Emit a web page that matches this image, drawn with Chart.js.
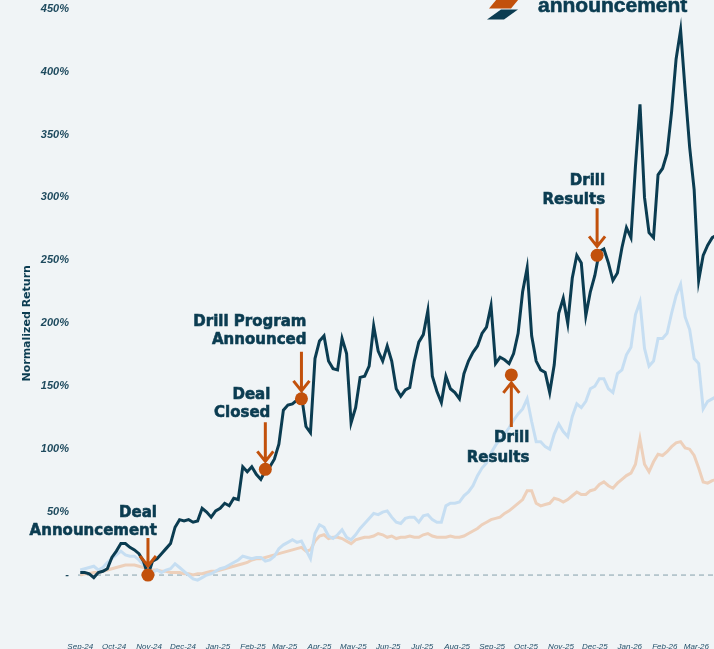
<!DOCTYPE html>
<html>
<head>
<meta charset="utf-8">
<title>Normalized Return</title>
<script src="https://cdn.jsdelivr.net/npm/chart.js@4.4.1/dist/chart.umd.min.js"></script>
<style>
    html, body { margin: 0; padding: 0; background: #F0F4F6; overflow: hidden; }
    /* the original picture is cropped at the top and right */
    #wrap { position: absolute; left: 0; top: -7px; width: 730px; height: 667px; }
</style>
</head>
<body>
<div id="wrap"><canvas id="returnChart"></canvas></div>
<script>
// Month ticks, in days since 1 Sep 2024
const monthLabels = ['Sep-24', 'Oct-24', 'Nov-24', 'Dec-24', 'Jan-25', 'Feb-25', 'Mar-25', 'Apr-25', 'May-25', 'Jun-25',
    'Jul-25', 'Aug-25', 'Sep-25', 'Oct-25', 'Nov-25', 'Dec-25', 'Jan-26', 'Feb-26', 'Mar-26'];
const monthDays = [0, 30, 61, 91, 122, 153, 181, 212, 242, 273, 303, 334, 365, 395, 426, 456, 487, 518, 546];

// one observation every 4 days, first one on 1 Sep 2024
const sampleStep = 4;

// Normalized returns (%)
const companyReturn = [
    2, 2, 1, -2, 2, 3, 5, 14, 19, 25,
    25, 22, 20, 17, 11, 0, 11, 13, 17, 21,
    25, 38, 44, 43, 44, 42, 43, 53, 50, 46,
    51, 53, 57, 55, 61, 60, 86, 82, 86, 80,
    76, 83, 86, 92, 104, 131, 135, 136, 139, 143,
    118, 113, 172, 186, 190, 170, 164, 163, 188, 176,
    121, 133, 157, 158, 166, 198, 178, 170, 182, 170,
    148, 142, 147, 149, 170, 185, 191, 210, 158, 146,
    137, 158, 148, 145, 140, 160, 170, 177, 182, 192,
    197, 214, 168, 173, 171, 168, 176, 192, 225, 244,
    190, 170, 163, 161, 145, 167, 208, 220, 200, 236,
    254, 248, 206, 225, 238, 257, 259, 248, 234, 240,
    260, 276, 268, 325, 374, 300, 272, 268, 318, 323,
    335, 368, 410, 433, 385, 340, 306, 234, 254, 262,
    268, 270
];
const peerReturn = [
    4, 5, 6, 7, 4, 6, 10, 13, 16, 19,
    16, 15, 15, 12, 8, 5, 2, 4, 2, 4,
    5, 9, 6, 3, 0, -3, -4, -2, 0, 1,
    3, 5, 6, 8, 10, 12, 15, 14, 13, 14,
    14, 11, 12, 15, 21, 24, 26, 28, 26, 27,
    20, 13, 33, 40, 38, 31, 29, 32, 36, 30,
    28, 32, 37, 41, 45, 49, 48, 50, 51, 46,
    42, 41, 45, 46, 46, 42, 47, 48, 44, 42,
    42, 55, 57, 57, 58, 63, 66, 71, 79, 85,
    89, 97, 103, 108, 112, 117, 123, 128, 132, 140,
    122, 106, 106, 102, 100, 112, 120, 114, 110, 126,
    136, 133, 138, 148, 150, 156, 156, 148, 145, 160,
    163, 175, 181, 207, 217, 180, 166, 170, 188, 188,
    192, 208, 222, 231, 205, 195, 172, 168, 132, 138,
    140, 142
];
const indexReturn = [
    0, 1, 1, 2, 2, 3, 4, 5, 6, 7,
    8, 8, 8, 7, 6, 4, 4, 4, 3, 3,
    2, 2, 2, 1, 1, 0, 1, 1, 2, 3,
    3, 4, 5, 6, 7, 8, 9, 10, 12, 13,
    13, 14, 15, 16, 17, 18, 19, 20, 21, 22,
    19, 20, 27, 31, 32, 29, 30, 30, 29, 27,
    25, 28, 29, 30, 30, 31, 33, 32, 30, 31,
    29, 30, 30, 31, 30, 30, 32, 33, 31, 30,
    30, 30, 31, 30, 30, 31, 33, 35, 37, 40,
    42, 44, 45, 46, 49, 51, 54, 57, 60, 67,
    67, 57, 55, 56, 57, 61, 60, 58, 60, 63,
    66, 64, 64, 67, 68, 72, 74, 71, 69, 73,
    76, 79, 81, 88, 108, 88, 82, 90, 96, 95,
    98, 102, 105, 106, 101, 100, 95, 85, 74, 73,
    75, 76
];

// Corporate events marked on the chart
const eventDays = [60, 164, 196, 382, 458];
const eventValues = [0, 84, 140, 159, 254];
const eventLabels = [
    ['Deal', 'Announcement'],
    ['Deal', 'Closed'],
    ['Drill Program', 'Announced'],
    ['Drill', 'Results'],
    ['Drill', 'Results']
];

// label / arrow placement relative to each event dot (px)
const eventLayout = [
    { dx: 9, baselines: [-58, -40], arrow: [-37, -9] },
    { dx: 5, baselines: [-70, -52], arrow: [-47, -8] },
    { dx: 5, baselines: [-73, -55], arrow: [-47, -8] },
    { dx: 18, baselines: [67, 87], arrow: [52, 8] },
    { dx: 8, baselines: [-70, -51], arrow: [-47, -9] }
];

const DARK = '#0B3C51';
const ACCENT = '#C2510C';

function toPoints(values) {
    return values.map((v, i) => ({ x: i * sampleStep, y: v }));
}

const eventPlugin = {
    id: 'events',
    beforeDatasetsDraw(chart) {
        const { ctx, chartArea, scales } = chart;
        const y0 = scales.y.getPixelForValue(0);
        ctx.save();
        ctx.strokeStyle = '#86A0AC';
        ctx.lineWidth = 1;
        ctx.setLineDash([5, 4]);
        ctx.beginPath();
        ctx.moveTo(chartArea.left, y0);
        ctx.lineTo(chartArea.right, y0);
        ctx.stroke();
        ctx.restore();
    },
    afterDatasetsDraw(chart) {
        const { ctx, scales } = chart;
        ctx.save();
        eventDays.forEach((day, k) => {
            const cx = scales.x.getPixelForValue(day);
            const cy = scales.y.getPixelForValue(eventValues[k]);
            const lay = eventLayout[k];

            // arrow
            const from = cy + lay.arrow[0];
            const tip = cy + lay.arrow[1];
            const dir = Math.sign(tip - from);
            ctx.strokeStyle = ACCENT;
            ctx.lineWidth = 3;
            ctx.lineCap = 'butt';
            ctx.beginPath();
            ctx.moveTo(cx, from);
            ctx.lineTo(cx, tip);
            ctx.moveTo(cx - 8, tip - dir * 10);
            ctx.lineTo(cx, tip);
            ctx.lineTo(cx + 8, tip - dir * 10);
            ctx.stroke();

            // label (a thin stroke makes it as heavy as the original)
            ctx.fillStyle = DARK;
            ctx.strokeStyle = DARK;
            ctx.lineWidth = 0.6;
            ctx.font = 'bold 15px "DejaVu Sans"';
            ctx.textAlign = 'right';
            ctx.textBaseline = 'alphabetic';
            eventLabels[k].forEach((line, j) => {
                ctx.fillText(line, cx + lay.dx, cy + lay.baselines[j]);
                ctx.strokeText(line, cx + lay.dx, cy + lay.baselines[j]);
            });
        });
        ctx.restore();
    },
    afterDraw(chart) {
        // cropped header: logo mark and the end of the title
        const ctx = chart.ctx;
        const top = chart.chartArea.top - 8; // top edge of the visible picture
        ctx.save();
        ctx.translate(0, top);
        ctx.fillStyle = ACCENT;
        ctx.beginPath();
        ctx.moveTo(499, -4);
        ctx.lineTo(521, -4);
        ctx.lineTo(511, 8);
        ctx.lineTo(489, 8);
        ctx.closePath();
        ctx.fill();
        ctx.fillStyle = DARK;
        ctx.beginPath();
        ctx.moveTo(501, 9);
        ctx.lineTo(518, 9);
        ctx.lineTo(504, 19);
        ctx.lineTo(487, 19);
        ctx.closePath();
        ctx.fill();
        ctx.strokeStyle = DARK;
        ctx.lineWidth = 0.6;
        ctx.font = 'bold 21px "Liberation Sans"';
        ctx.textAlign = 'left';
        ctx.textBaseline = 'alphabetic';
        ctx.fillText('announcement', 538, 11);
        ctx.strokeText('announcement', 538, 11);
        ctx.restore();
    }
};

const ctx = document.getElementById('returnChart').getContext('2d');
const returnChart = new Chart(ctx, {
    type: 'line',
    data: {
        datasets: [
            {
                type: 'scatter',
                label: 'Events',
                data: eventDays.map((d, k) => ({ x: d, y: eventValues[k] })),
                backgroundColor: ACCENT,
                borderWidth: 0,
                pointRadius: 6.5,
                order: 0
            },
            {
                label: 'Company',
                data: toPoints(companyReturn),
                borderColor: DARK,
                borderWidth: 3,
                pointRadius: 0,
                tension: 0,
                order: 1
            },
            {
                label: 'Peers',
                data: toPoints(peerReturn),
                borderColor: '#C6DEF2',
                borderWidth: 3,
                pointRadius: 0,
                tension: 0,
                order: 2
            },
            {
                label: 'Index',
                data: toPoints(indexReturn),
                borderColor: '#EDD0BB',
                borderWidth: 3,
                pointRadius: 0,
                tension: 0,
                order: 3
            }
        ]
    },
    options: {
        responsive: true,
        maintainAspectRatio: false,
        animation: false,
        layout: { padding: { top: 1, right: 4, left: 0, bottom: 0 } },
        plugins: {
            legend: { display: false },
            tooltip: { enabled: false }
        },
        scales: {
            x: {
                type: 'linear',
                min: -2,
                max: 570,
                grid: { display: false, drawTicks: false },
                border: { display: false },
                afterBuildTicks(scale) {
                    scale.ticks = monthDays.map(v => ({ value: v }));
                },
                afterFit(scale) {
                    scale.height = 22;
                },
                ticks: {
                    autoSkip: false,
                    maxRotation: 0,
                    padding: 4,
                    color: '#24506A',
                    font: { family: '"Liberation Sans"', size: 8, style: 'italic' },
                    callback: (value) => monthLabels[monthDays.indexOf(value)]
                }
            },
            y: {
                min: -50,
                max: 450,
                grid: { display: false, drawTicks: false },
                border: { display: false },
                afterFit(scale) {
                    scale.width = 78;
                },
                ticks: {
                    stepSize: 50,
                    padding: 9,
                    color: '#1E4A5E',
                    font: { family: '"Liberation Sans"', size: 11, style: 'italic', weight: 'bold' },
                    callback: (value) => value === 0 ? '-' : (value < 0 ? '' : value + '%')
                },
                title: {
                    display: true,
                    text: 'Normalized Return',
                    color: DARK,
                    padding: { top: 21, bottom: 0 },
                    font: { family: '"DejaVu Sans"', size: 11, weight: 'bold' }
                }
            }
        }
    },
    plugins: [eventPlugin]
});
</script>
</body>
</html>
